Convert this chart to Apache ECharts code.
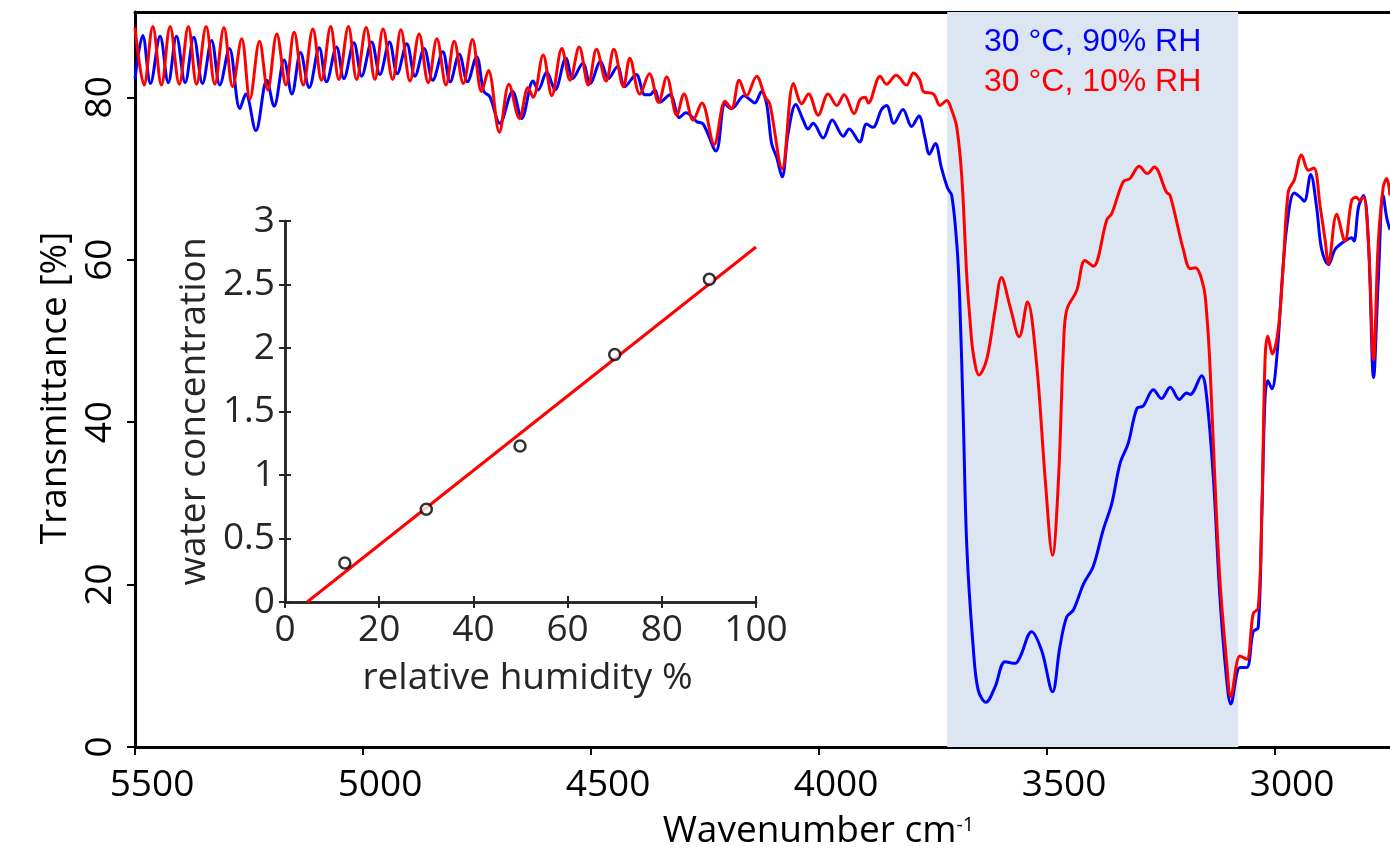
<!DOCTYPE html>
<html>
<head>
<meta charset="utf-8">
<script src="https://cdn.jsdelivr.net/npm/echarts@6/dist/echarts.min.js"></script>
<style>
html,body{margin:0;padding:0;background:#fff;}
#chart{width:1390px;height:861px;}
</style>
</head>
<body>
<div id="chart"></div>
<script>
// ---- Data ----
const xTicks = [3000, 3500, 4000, 4500, 5000, 5500];
const yTicks = [0, 20, 40, 60, 80];
const bandRange = [3719, 3081];
const legendLabels = ['30 °C, 90% RH', '30 °C, 10% RH'];

// 30 °C, 90% RH spectrum: [wavenumber, transmittance]
const spectrum90 = [
[5500,82.3],[5483,87.6],[5466,81.7],[5445,87.5],[5427,81.8],[5409,87.5],[5390,81.8],[5371,87.4],[5352,81.7],[5332,87.0],
[5314,81.5],[5293,86.0],[5270,78.6],[5257,80.4],[5235,75.9],[5211,82.1],[5195,78.9],[5173,84.6],[5156,80.4],[5137,85.5],
[5118,81.2],[5096,86.1],[5080,81.9],[5058,86.2],[5042,82.3],[5020,86.7],[5003,82.6],[4981,86.8],[4963,82.8],[4942,86.8],
[4925,82.9],[4904,86.6],[4886,82.6],[4866,86.0],[4847,82.1],[4825,85.6],[4809,81.9],[4789,85.3],[4771,81.9],[4751,85.0],
[4735,80.7],[4722,80.1],[4700,76.8],[4672,80.7],[4652,77.4],[4627,82.0],[4616,80.9],[4597,83.1],[4579,80.9],[4555,84.8],
[4540,82.3],[4518,84.2],[4502,81.7],[4479,84.4],[4462,82.3],[4442,83.8],[4426,81.3],[4401,82.8],[4382,80.3],[4371,80.3],
[4360,80.9],[4349,79.4],[4327,80.3],[4306,77.5],[4292,78.1],[4268,77.0],[4254,76.7],[4226,73.4],[4206,79.2],[4192,78.6],
[4164,80.2],[4151,79.7],[4141,79.3],[4126,80.7],[4115,79.2],[4104,74.3],[4093,72.6],[4081,70.2],[4068,75.5],[4051,79.1],
[4035,77.2],[4024,76.1],[4013,76.8],[3991,75.0],[3971,77.2],[3947,75.2],[3934,76.1],[3911,74.5],[3896,76.7],[3882,76.3],
[3863,78.5],[3852,79.0],[3836,76.8],[3816,78.5],[3797,76.4],[3781,77.7],[3768,75.1],[3758,73.0],[3745,74.3],[3732,71.4],
[3718,68.8],[3709,67.9],[3698,62.0],[3692,55.8],[3684,41.1],[3676,24.7],[3662,12.3],[3651,7.0],[3634,5.5],[3614,7.4],
[3592,10.5],[3570,10.3],[3559,11.1],[3534,14.2],[3512,11.9],[3488,6.8],[3472,12.3],[3457,16.0],[3442,16.9],[3420,20.1],
[3399,22.2],[3377,26.7],[3358,30.0],[3340,34.9],[3322,37.4],[3303,41.7],[3289,42.0],[3267,44.0],[3249,42.9],[3230,44.3],
[3210,42.8],[3194,43.6],[3186,43.4],[3161,45.7],[3150,43.1],[3135,32.9],[3121,18.5],[3106,8.2],[3097,5.3],[3077,9.8],
[3062,9.8],[3048,14.2],[3037,14.7],[3029,28.8],[3022,43.0],[3016,45.1],[3007,44.1],[2996,48.1],[2985,57.1],[2974,64.2],
[2958,68.2],[2945,67.7],[2936,67.2],[2922,70.5],[2909,66.5],[2898,61.3],[2883,59.4],[2868,61.3],[2847,62.3],[2832,62.7],
[2827,62.3],[2817,66.5],[2806,67.9],[2795,61.8],[2784,45.5],[2774,57.1],[2763,67.9],[2755,65.1],[2748,63.7]
];

// 30 °C, 10% RH spectrum: [wavenumber, transmittance]
const spectrum10 = [
[5500,88.6],[5480,81.5],[5461,88.7],[5442,81.5],[5423,88.7],[5403,81.6],[5383,88.7],[5365,81.6],[5344,88.7],[5325,81.6],
[5305,88.6],[5286,81.3],[5266,87.2],[5248,79.8],[5227,86.9],[5209,80.9],[5189,87.8],[5169,81.5],[5151,88.0],[5131,81.5],
[5110,88.4],[5091,82.1],[5071,88.7],[5053,82.2],[5032,88.7],[5014,82.2],[4993,88.6],[4974,82.2],[4956,88.4],[4935,82.2],
[4917,88.3],[4897,82.0],[4877,87.8],[4857,81.8],[4838,87.2],[4818,81.5],[4800,86.9],[4780,81.7],[4760,87.1],[4740,80.7],
[4725,83.3],[4701,75.7],[4680,81.6],[4657,77.4],[4638,81.2],[4627,80.0],[4605,85.2],[4586,80.2],[4564,86.0],[4546,82.1],
[4526,86.2],[4506,81.5],[4488,85.9],[4467,82.0],[4450,85.9],[4429,81.3],[4415,84.8],[4393,80.4],[4372,82.9],[4352,79.4],
[4334,82.5],[4312,77.8],[4296,80.4],[4276,77.2],[4257,79.3],[4230,74.2],[4206,79.5],[4192,78.6],[4175,82.1],[4159,80.2],
[4137,82.6],[4118,80.0],[4108,79.2],[4081,71.2],[4056,81.7],[4038,79.2],[4023,80.4],[4002,77.8],[3980,80.4],[3961,79.0],
[3945,80.3],[3923,78.0],[3910,79.7],[3899,80.0],[3892,79.3],[3866,82.6],[3852,81.6],[3831,82.7],[3808,81.5],[3793,83.0],
[3779,82.1],[3771,80.7],[3749,80.4],[3735,79.0],[3720,79.6],[3709,78.4],[3698,76.3],[3687,70.2],[3676,57.9],[3669,52.6],
[3662,48.5],[3649,45.8],[3632,47.8],[3614,53.8],[3600,57.8],[3581,54.2],[3561,50.5],[3543,54.8],[3523,47.2],[3504,32.9],
[3488,23.6],[3475,32.9],[3464,49.3],[3457,53.8],[3435,56.2],[3417,59.9],[3399,59.2],[3369,64.9],[3358,65.7],[3333,69.6],
[3318,70.0],[3298,71.5],[3280,70.6],[3265,71.4],[3238,68.3],[3230,67.9],[3201,61.2],[3186,58.9],[3175,59.0],[3157,56.7],
[3150,53.4],[3143,47.2],[3132,32.9],[3121,20.6],[3106,10.3],[3097,6.2],[3077,11.2],[3062,10.8],[3048,16.4],[3037,17.1],
[3029,28.8],[3022,47.7],[3016,50.6],[3006,48.4],[2993,51.4],[2982,59.4],[2971,68.4],[2958,69.8],[2942,72.9],[2927,71.0],
[2915,71.3],[2901,66.5],[2890,62.3],[2883,59.5],[2865,65.6],[2847,62.3],[2832,67.3],[2822,67.7],[2814,67.3],[2806,67.7],
[2795,61.8],[2784,47.7],[2774,61.8],[2763,68.9],[2755,70.0],[2748,67.9]
];

// Inset: water concentration vs relative humidity
const insetRH = [12.7, 30.0, 49.9, 70.0, 90.1];
const insetConc = [0.307, 0.731, 1.229, 1.949, 2.541];
const fitLine = [[4.7, 0], [100, 2.795]];

// ---- Chart ----
const FONT = "'Open Sans', 'DejaVu Sans', sans-serif";
const chart = echarts.init(document.getElementById('chart'), null, {renderer: 'canvas'});

const insetAxisCommon = {
  axisLine: {show: true, lineStyle: {color: '#262626', width: 2.5}},
  axisTick: {show: true, inside: true, length: 6, lineStyle: {color: '#262626', width: 2}},
  splitLine: {show: false}
};

const option = {
  animation: false,
  backgroundColor: '#fff',
  grid: [
    {left: 135, top: 12, right: 0, bottom: 114, containLabel: false},
    {left: 285, top: 221, width: 471, height: 381, show: true, backgroundColor: '#fff', borderWidth: 0, containLabel: false}
  ],
  xAxis: [
    {
      gridIndex: 0, type: 'value', inverse: true, min: 2748, max: 5500,
      axisLine: {show: true, onZero: false, lineStyle: {color: '#000', width: 3}},
      axisTick: {show: true, customValues: xTicks, length: 8, lineStyle: {color: '#000', width: 2}},
      axisLabel: {customValues: xTicks, formatter: v => String(v), fontFamily: FONT, fontSize: 37, color: '#000', margin: 20, padding: [0, 0, 0, 34]},
      splitLine: {show: false},
      name: '{a|Wavenumber cm}{s|-1}',
      nameLocation: 'middle', nameGap: 62,
      nameTextStyle: {
        padding: [0, 0, 0, 112],
        rich: {
          a: {fontFamily: FONT, fontSize: 37, color: '#000', lineHeight: 44},
          s: {fontFamily: FONT, fontSize: 20, color: '#000', lineHeight: 44, verticalAlign: 'top', padding: [6, 0, 0, 0]}
        }
      }
    },
    {
      gridIndex: 0, type: 'value', position: 'top', inverse: true, min: 2748, max: 5500,
      axisLine: {show: true, onZero: false, lineStyle: {color: '#000', width: 3}},
      axisTick: {show: false}, axisLabel: {show: false}, splitLine: {show: false}
    },
    Object.assign({
      gridIndex: 1, type: 'value', min: 0, max: 100, interval: 20, position: 'bottom',
      axisLabel: {fontFamily: FONT, fontSize: 37, color: '#262626', margin: 10},
      name: 'relative humidity %', nameLocation: 'middle', nameGap: 58,
      nameTextStyle: {fontFamily: FONT, fontSize: 37, color: '#262626', padding: [0, 0, 0, 14]}
    }, insetAxisCommon),
    Object.assign({
      gridIndex: 1, type: 'value', min: 0, max: 100, interval: 20, position: 'top',
      axisLabel: {show: false}
    }, insetAxisCommon)
  ],
  yAxis: [
    {
      gridIndex: 0, type: 'value', min: 0, max: 90.5,
      axisLine: {show: true, onZero: false, lineStyle: {color: '#000', width: 3}},
      axisTick: {show: true, customValues: yTicks, length: 8, lineStyle: {color: '#000', width: 2}},
      axisLabel: {customValues: yTicks, rotate: 90, fontFamily: FONT, fontSize: 37, color: '#000', margin: 16},
      splitLine: {show: false},
      name: 'Transmittance [%]', nameLocation: 'middle', nameGap: 55,
      nameTextStyle: {fontFamily: FONT, fontSize: 37, color: '#000', padding: [0, 17, 0, 0]}
    },
    Object.assign({
      gridIndex: 1, type: 'value', min: 0, max: 3, interval: 0.5, position: 'left',
      axisLabel: {fontFamily: FONT, fontSize: 37, color: '#262626', margin: 10},
      name: 'water concentration', nameLocation: 'middle', nameGap: 72,
      nameTextStyle: {fontFamily: FONT, fontSize: 37, color: '#262626'}
    }, insetAxisCommon),
    Object.assign({
      gridIndex: 1, type: 'value', min: 0, max: 3, interval: 0.5, position: 'right',
      axisLabel: {show: false}
    }, insetAxisCommon)
  ],
  graphic: [
    {type: 'text', left: 984, top: 26, z: 100,
     style: {text: legendLabels[0], font: "32px 'Liberation Sans', Arial, sans-serif", fill: '#0000ff'}},
    {type: 'text', left: 984, top: 66, z: 100,
     style: {text: legendLabels[1], font: "32px 'Liberation Sans', Arial, sans-serif", fill: '#ff0000'}}
  ],
  series: [
    {
      name: legendLabels[0], type: 'line', xAxisIndex: 0, yAxisIndex: 0,
      data: spectrum90, showSymbol: false, symbol: 'none', smooth: 0.35, clip: true, z: 3,
      lineStyle: {color: '#0000ff', width: 3},
      markArea: {
        silent: true, z: 1,
        itemStyle: {color: '#dce6f2'},
        data: [[{xAxis: bandRange[0]}, {xAxis: bandRange[1]}]]
      }
    },
    {
      name: legendLabels[1], type: 'line', xAxisIndex: 0, yAxisIndex: 0,
      data: spectrum10, showSymbol: false, symbol: 'none', smooth: 0.35, clip: true, z: 4,
      lineStyle: {color: '#ff0000', width: 3}
    },
    {
      type: 'line', xAxisIndex: 2, yAxisIndex: 1, data: fitLine, symbol: 'none', z: 9,
      lineStyle: {color: '#ff0000', width: 3}
    },
    {
      type: 'scatter', xAxisIndex: 2, yAxisIndex: 1, z: 10,
      data: insetRH.map((x, i) => [x, insetConc[i]]),
      symbol: 'circle', symbolSize: 11,
      itemStyle: {color: '#fff', borderColor: '#000', borderWidth: 2.5}
    }
  ]
};
chart.setOption(option);
</script>
</body>
</html>
